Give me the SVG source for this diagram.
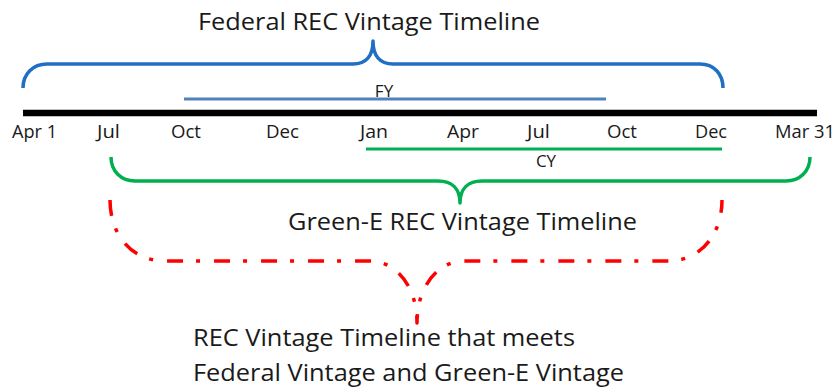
<svg xmlns="http://www.w3.org/2000/svg" width="837" height="388" viewBox="0 0 837 388">
<style>
text{font-family:"Open Sans","Noto Sans","Liberation Sans",sans-serif;fill:#1a1a1a}
.t{font-size:24px}
.m{font-size:19px}
.s{font-size:17px}
.brace{fill:none;stroke-width:3.5;stroke-linejoin:round;stroke-linecap:butt}
</style>
<rect width="837" height="388" fill="#fff"/>
<g id="connectors">
<path id="federal-brace" class="brace" stroke="#1f6fc4" d="M23,88 C23,74 33,64 47,64 L353,64 C366,64 373,56 373,41 C373,56 380,64 393,64 L700,64 C714,64 723,74 723,88"/>
<line id="fy-line" x1="184" y1="99" x2="606" y2="99" stroke="#4f81bd" stroke-width="3"/>
<line id="timeline" x1="23" y1="113" x2="817" y2="113" stroke="#000" stroke-width="6.5"/>
<line id="cy-line" x1="366" y1="149" x2="722" y2="149" stroke="#00b050" stroke-width="3"/>
<path id="greene-brace" class="brace" stroke="#00b050" d="M111,157 C111,171 121,181 135,181 L438,181 C452,181 460,189 460,203 C460,189 468,181 482,181 L786,181 C800,181 810,171 810,157"/>
<path id="meets-brace" class="brace" stroke="#ff0000" stroke-width="4" stroke-dasharray="16 13 4 14" d="M110,200 C110,234 131,261 165,261 L370,261 C395,261 417,285 417,323 C417,285 439,261 464,261 L668,261 C701,261 722,234 722,200"/>
</g>
<g id="federal-title"><text class="t" x="198" y="30" textLength="342" lengthAdjust="spacingAndGlyphs">Federal REC Vintage Timeline</text></g>
<g id="fy-label"><text class="s" x="384" y="97" text-anchor="middle">FY</text></g>
<g id="months">
<text class="m" x="12" y="138" textLength="45" lengthAdjust="spacingAndGlyphs">Apr 1</text>
<text class="m" x="97" y="138" textLength="23" lengthAdjust="spacingAndGlyphs">Jul</text>
<text class="m" x="171" y="138" textLength="30" lengthAdjust="spacingAndGlyphs">Oct</text>
<text class="m" x="266" y="138" textLength="33" lengthAdjust="spacingAndGlyphs">Dec</text>
<text class="m" x="360" y="138" textLength="28" lengthAdjust="spacingAndGlyphs">Jan</text>
<text class="m" x="447" y="138" textLength="32" lengthAdjust="spacingAndGlyphs">Apr</text>
<text class="m" x="527" y="138" textLength="23" lengthAdjust="spacingAndGlyphs">Jul</text>
<text class="m" x="607" y="138" textLength="30" lengthAdjust="spacingAndGlyphs">Oct</text>
<text class="m" x="695" y="138" textLength="32" lengthAdjust="spacingAndGlyphs">Dec</text>
<text class="m" x="775" y="138" textLength="60" lengthAdjust="spacingAndGlyphs">Mar 31</text>
</g>
<g id="cy-label"><text class="s" x="546" y="167" text-anchor="middle">CY</text></g>
<g id="greene-title"><text class="t" x="288" y="230" textLength="349" lengthAdjust="spacingAndGlyphs">Green-E REC Vintage Timeline</text></g>
<g id="meets-label">
<text class="t" x="193" y="346" textLength="382" lengthAdjust="spacingAndGlyphs">REC Vintage Timeline that meets</text>
<text class="t" x="193" y="381" textLength="431" lengthAdjust="spacingAndGlyphs">Federal Vintage and Green-E Vintage</text>
</g>
</svg>
